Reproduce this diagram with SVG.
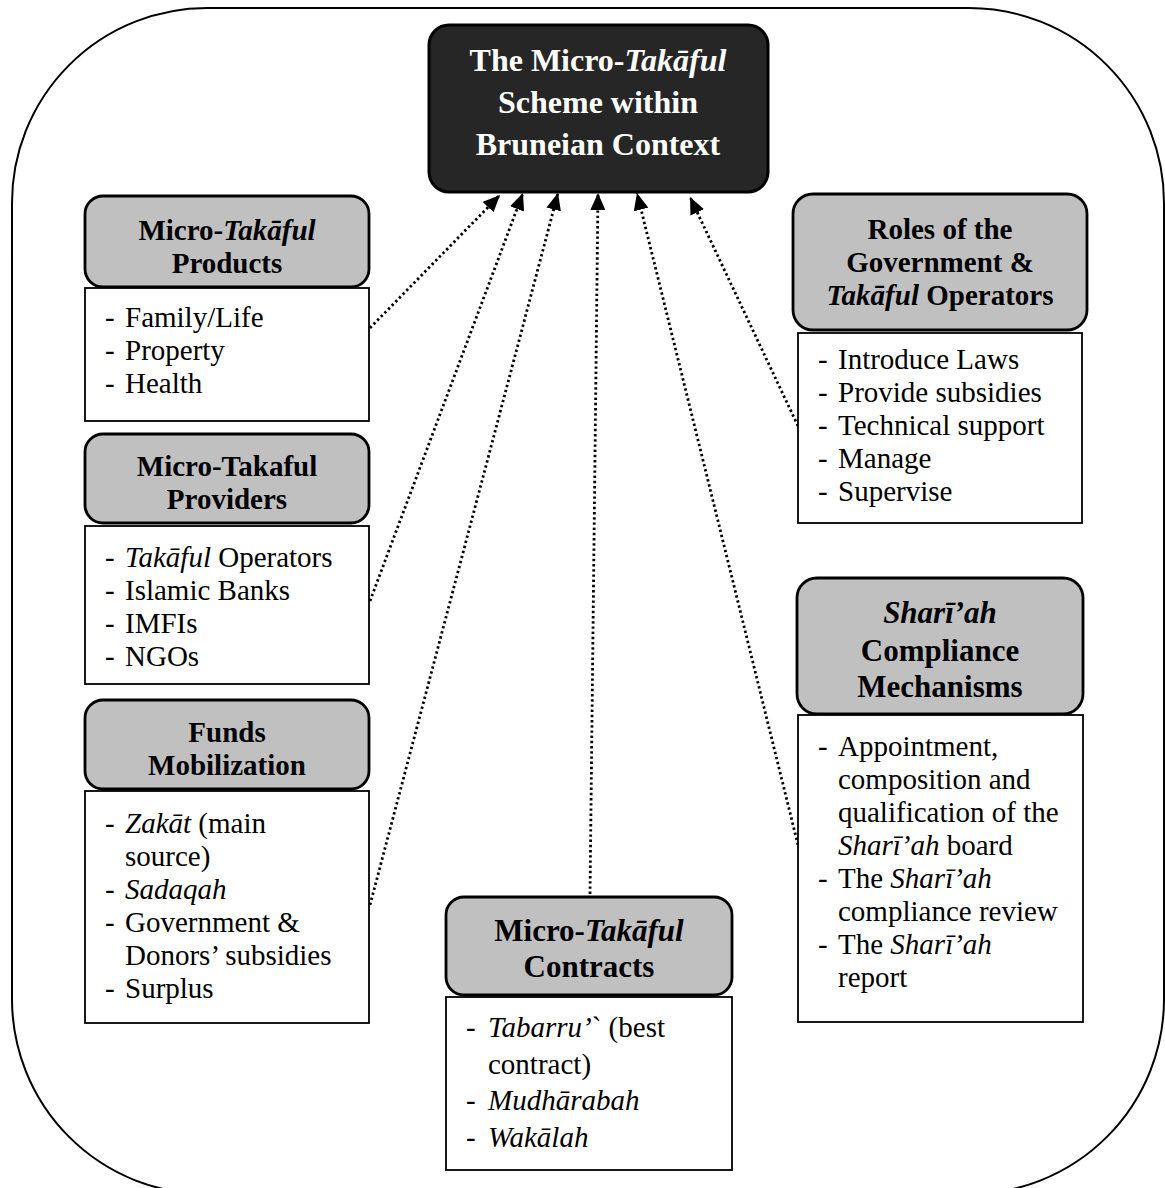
<svg xmlns="http://www.w3.org/2000/svg" width="1165" height="1188" viewBox="0 0 1165 1188">
  <style>
    .frame { fill: none; stroke: #000; stroke-width: 2; }
    .hub { fill: #262626; stroke: #000; stroke-width: 3; }
    .head { fill: #c0c0c0; stroke: #000; stroke-width: 2.8; }
    .body { fill: #fff; stroke: #000; stroke-width: 1.8; }
    text { font-family: "Liberation Serif", "Times New Roman", serif; fill: #000; }
    .ht { font-size: 29px; font-weight: bold; text-anchor: middle; }
    .ht2 { font-size: 31px; font-weight: bold; text-anchor: middle; }
    .hubt { font-size: 32px; font-weight: bold; text-anchor: middle; fill: #fff; }
    .bt { font-size: 29px; }
    .i { font-style: italic; }
    .link { fill: none; stroke: #000; stroke-width: 2.8; stroke-dasharray: 2.4 2.8; marker-end: url(#tip); }
  </style>
  <defs>
    <marker id="tip" markerUnits="userSpaceOnUse" markerWidth="17" markerHeight="15" viewBox="0 0 17 15" refX="17" refY="7.5" orient="auto">
      <path d="M0,0 L17,7.5 L0,15 Z" fill="#000"/>
    </marker>
  </defs>

  <!-- outer rounded frame -->
  <rect class="frame" x="12" y="8" width="1152" height="1186" rx="195" ry="195"/>

  <!-- connectors -->
  <g id="connectors">
    <path class="link" d="M370,328 L500,195"/>
    <path class="link" d="M370,601 L523,193"/>
    <path class="link" d="M370,905 L558,193"/>
    <path class="link" d="M590,894 L598,193"/>
    <path class="link" d="M798,845 L637,193"/>
    <path class="link" d="M798,426 L690,197"/>
  </g>

  <!-- central node -->
  <g id="scheme">
    <rect class="hub" x="429" y="25" width="339" height="167" rx="20"/>
    <text class="hubt" x="598" y="71">The Micro-<tspan class="i">Takāful</tspan></text>
    <text class="hubt" x="598" y="113">Scheme within</text>
    <text class="hubt" x="598" y="155">Bruneian Context</text>
  </g>

  <!-- products -->
  <g id="products">
    <rect class="head" x="85" y="196" width="284" height="91" rx="18"/>
    <text class="ht" x="227" y="240">Micro-<tspan class="i">Takāful</tspan></text>
    <text class="ht" x="227" y="273">Products</text>
    <rect class="body" x="85" y="288" width="284" height="133"/>
    <text class="bt" x="105" y="327">-</text><text class="bt" x="125" y="327">Family/Life</text>
    <text class="bt" x="105" y="360">-</text><text class="bt" x="125" y="360">Property</text>
    <text class="bt" x="105" y="393">-</text><text class="bt" x="125" y="393">Health</text>
  </g>

  <!-- providers -->
  <g id="providers">
    <rect class="head" x="85" y="434" width="284" height="89" rx="18"/>
    <text class="ht" x="227" y="476">Micro-Takaful</text>
    <text class="ht" x="227" y="509">Providers</text>
    <rect class="body" x="85" y="526" width="284" height="158"/>
    <text class="bt" x="105" y="567">-</text><text class="bt" x="125" y="567"><tspan class="i">Takāful</tspan> Operators</text>
    <text class="bt" x="105" y="600">-</text><text class="bt" x="125" y="600">Islamic Banks</text>
    <text class="bt" x="105" y="633">-</text><text class="bt" x="125" y="633">IMFIs</text>
    <text class="bt" x="105" y="666">-</text><text class="bt" x="125" y="666">NGOs</text>
  </g>

  <!-- funds -->
  <g id="funds">
    <rect class="head" x="85" y="700" width="284" height="89" rx="18"/>
    <text class="ht" x="227" y="742">Funds</text>
    <text class="ht" x="227" y="775">Mobilization</text>
    <rect class="body" x="85" y="791" width="284" height="232"/>
    <text class="bt" x="105" y="833">-</text><text class="bt" x="125" y="833"><tspan class="i">Zakāt</tspan> (main</text>
    <text class="bt" x="125" y="866">source)</text>
    <text class="bt" x="105" y="899">-</text><text class="bt i" x="125" y="899">Sadaqah</text>
    <text class="bt" x="105" y="932">-</text><text class="bt" x="125" y="932">Government &amp;</text>
    <text class="bt" x="125" y="965">Donors’ subsidies</text>
    <text class="bt" x="105" y="998">-</text><text class="bt" x="125" y="998">Surplus</text>
  </g>

  <!-- contracts -->
  <g id="contracts">
    <rect class="head" x="446" y="897" width="286" height="98" rx="18"/>
    <text class="ht2" x="589" y="941">Micro-<tspan class="i">Takāful</tspan></text>
    <text class="ht2" x="589" y="977">Contracts</text>
    <rect class="body" x="446" y="997" width="286" height="173"/>
    <text class="bt" x="466" y="1037">-</text><text class="bt" x="488" y="1037"><tspan class="i">Tabarru’</tspan>` (best</text>
    <text class="bt" x="488" y="1074">contract)</text>
    <text class="bt" x="466" y="1110">-</text><text class="bt i" x="488" y="1110">Mudhārabah</text>
    <text class="bt" x="466" y="1147">-</text><text class="bt i" x="488" y="1147">Wakālah</text>
  </g>

  <!-- government and operators -->
  <g id="roles">
    <rect class="head" x="793" y="194" width="294" height="136" rx="20"/>
    <text class="ht" x="940" y="239">Roles of the</text>
    <text class="ht" x="940" y="272">Government &amp;</text>
    <text class="ht" x="940" y="305"><tspan class="i">Takāful</tspan> Operators</text>
    <rect class="body" x="798" y="333" width="284" height="190"/>
    <text class="bt" x="818" y="369">-</text><text class="bt" x="838" y="369">Introduce Laws</text>
    <text class="bt" x="818" y="402">-</text><text class="bt" x="838" y="402">Provide subsidies</text>
    <text class="bt" x="818" y="435">-</text><text class="bt" x="838" y="435">Technical support</text>
    <text class="bt" x="818" y="468">-</text><text class="bt" x="838" y="468">Manage</text>
    <text class="bt" x="818" y="501">-</text><text class="bt" x="838" y="501">Supervise</text>
  </g>

  <!-- shariah compliance -->
  <g id="shariah">
    <rect class="head" x="797" y="578" width="286" height="136" rx="20"/>
    <text class="ht2 i" x="940" y="623">Sharī’ah</text>
    <text class="ht2" x="940" y="661">Compliance</text>
    <text class="ht2" x="940" y="697">Mechanisms</text>
    <rect class="body" x="798" y="715" width="285" height="307"/>
    <text class="bt" x="818" y="756">-</text><text class="bt" x="838" y="756">Appointment,</text>
    <text class="bt" x="838" y="789">composition and</text>
    <text class="bt" x="838" y="822">qualification of the</text>
    <text class="bt" x="838" y="855"><tspan class="i">Sharī’ah</tspan> board</text>
    <text class="bt" x="818" y="888">-</text><text class="bt" x="838" y="888">The <tspan class="i">Sharī’ah</tspan></text>
    <text class="bt" x="838" y="921">compliance review</text>
    <text class="bt" x="818" y="954">-</text><text class="bt" x="838" y="954">The <tspan class="i">Sharī’ah</tspan></text>
    <text class="bt" x="838" y="987">report</text>
  </g>
</svg>
